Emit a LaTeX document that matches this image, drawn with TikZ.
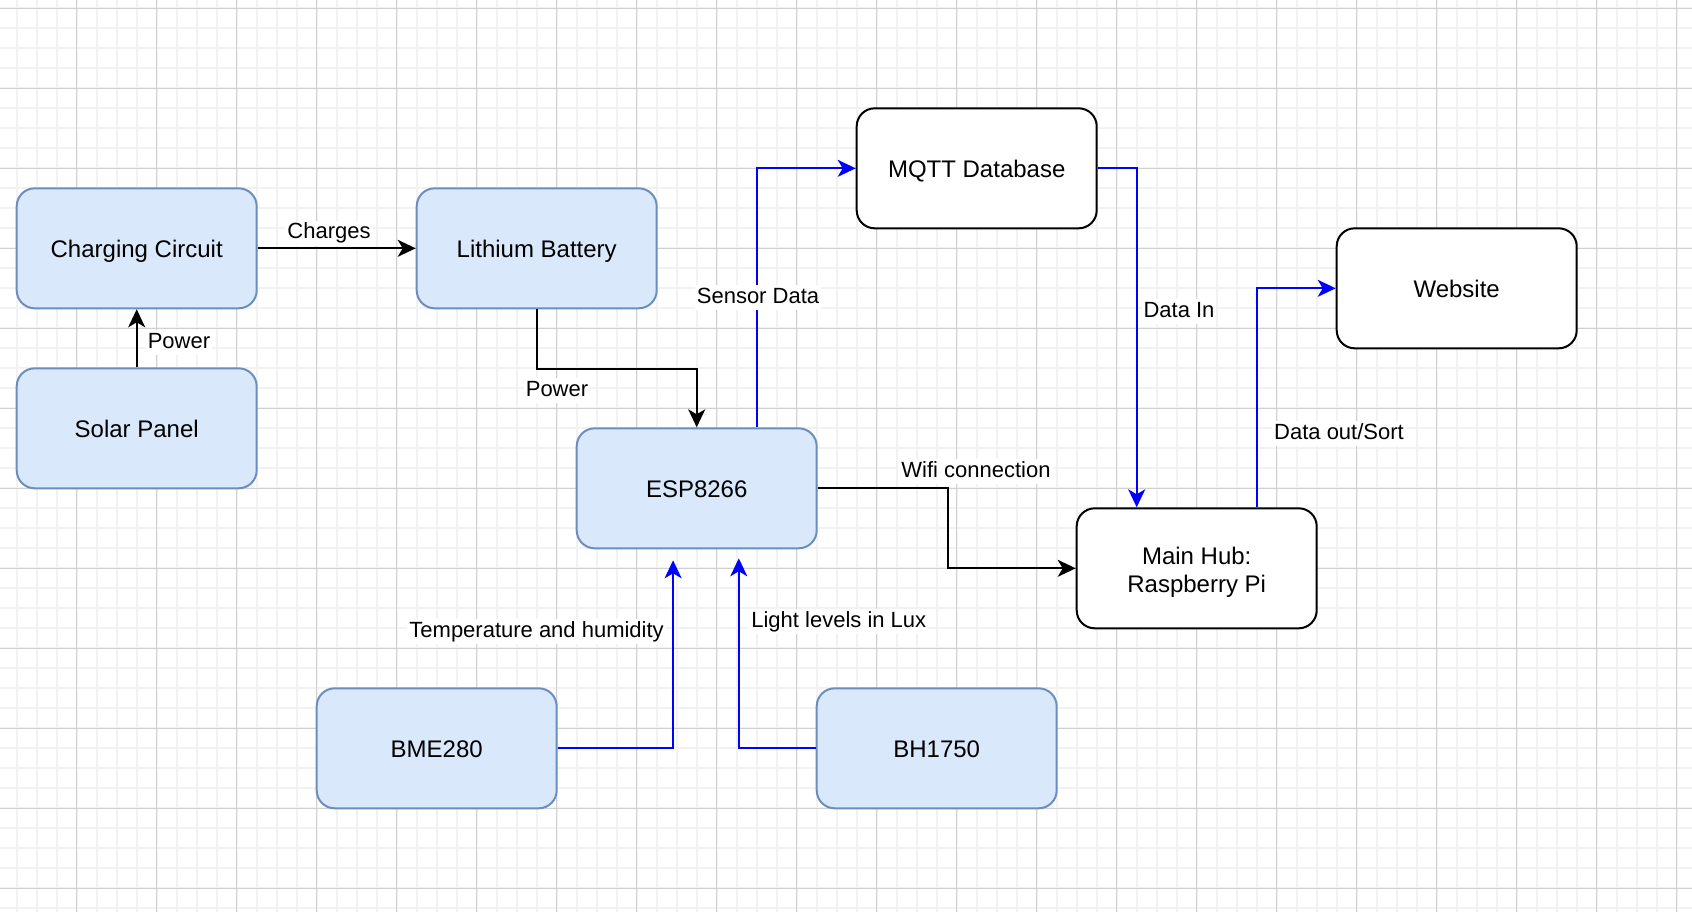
\documentclass[tikz,border=0pt]{standalone}
\usepackage{fontspec}
\setmainfont{Liberation Sans}
\usetikzlibrary{arrows.meta,calc}
\definecolor{boxfill}{HTML}{DAE8FC}
\definecolor{boxline}{HTML}{6C8EBF}
\definecolor{linkblue}{HTML}{0000FF}
\definecolor{gridmajor}{HTML}{D0D0D0}
\definecolor{gridminor}{HTML}{F2F2F2}
\tikzset{
  boxbase/.style={line width=1pt, rounded corners=9pt,
    minimum width=120pt, minimum height=60pt, inner sep=0pt,
    font=\fontsize{12}{14}\selectfont, text height=9.4pt, text depth=0pt},
  bluebox/.style={boxbase, draw=boxline, fill=boxfill},
  whitebox/.style={boxbase, draw=black, fill=white},
  lbl/.style={fill=white, inner sep=1pt, font=\fontsize{11}{13}\selectfont,
    text height=8pt, text depth=2.5pt},
  blk/.style={draw=black, line width=1pt, -{Stealth[length=9pt,width=8.5pt,inset=2.5pt]}},
  blu/.style={draw=linkblue, line width=1pt, -{Stealth[length=9pt,width=8.5pt,inset=2.5pt]}},
  minorline/.style={draw=gridminor, line width=1pt},
  majorline/.style={draw=gridmajor, line width=0.6pt}
}
\begin{document}
\begin{tikzpicture}[x=0.5pt, y=-0.5pt]
\useasboundingbox (0,0) rectangle (1692,912);
\fill[white] (0,0) rectangle (1692,912);
% grid
\foreach \i in {0,...,83} \draw[minorline] ({16.7+20*\i},0) -- ++(0,912);
\foreach \j in {0,...,45} \draw[minorline] (0,{8.3+20*\j}) -- ++(1692,0);
\foreach \i in {0,...,20} \draw[majorline] ({76.7+80*\i},0) -- ++(0,912);
\foreach \j in {0,...,11} \draw[majorline] (0,{8.3+80*\j}) -- ++(1692,0);

% nodes
\node[bluebox] (charge) at (136.7,248.3) {Charging Circuit};
\node[bluebox] (solar) at (136.7,428.3) {Solar Panel};
\node[bluebox] (lith) at (536.7,248.3) {Lithium Battery};
\node[bluebox] (esp) at (696.7,488.3) {ESP8266};
\node[whitebox] (mqtt) at (976.7,168.3) {MQTT Database};
\node[whitebox] (web) at (1456.7,288.3) {Website};
\node[whitebox, text height=, text depth=] (hub) at (1196.7,568.3)
  {\parbox[c][60pt][c]{120pt}{\centering\vspace*{4.4pt}Main Hub:\\Raspberry Pi}};
\node[bluebox] (bme) at (436.7,748.3) {BME280};
\node[bluebox] (bh) at (936.7,748.3) {BH1750};

% connector end points
\coordinate (espout) at ($(esp.north)+(60,0)$);
\coordinate (hubin) at ($(hub.north)+(-60,0)$);
\coordinate (hubout) at ($(hub.north)+(60,0)$);
\coordinate (espin1) at ($(esp.south)+(-23.6,11)$);
\coordinate (espin2) at ($(esp.south)+(42.1,9)$);

% connectors
\draw[blk] (charge.east) -- (lith.west);
\draw[blk] (solar.north) -- (charge.south);
\draw[blk] (lith.south) -- ++(0,60) -| (esp.north);
\draw[blu] (espout) |- (mqtt.west);
\draw[blu] (mqtt.east) -| (hubin);
\draw[blu] (hubout) |- (web.west);
\draw[blk] (esp.east) -- ++(130,0) |- (hub.west);
\draw[blu] (bme.east) -| (espin1);
\draw[blu] (bh.west) -| (espin2);

% labels
\node[lbl] (lcharges) at (329,233) {Charges};
\node[lbl] (lpower1) at (179,342.5) {Power};
\node[lbl] (lpower2) at (557,390.5) {Power};
\node[lbl] (lsensor) at (758,297.5) {Sensor Data};
\node[lbl] (ldatain) at (1179,311.5) {Data In};
\node[lbl] (ldataout) at (1339,433.5) {Data out/Sort};
\node[lbl] (lwifi) at (976,471.5) {Wifi connection};
\node[lbl] (ltemp) at (536.6,631.5) {Temperature and humidity};
\node[lbl] (llight) at (838.8,621.5) {Light levels in Lux};
\end{tikzpicture}
\end{document}
